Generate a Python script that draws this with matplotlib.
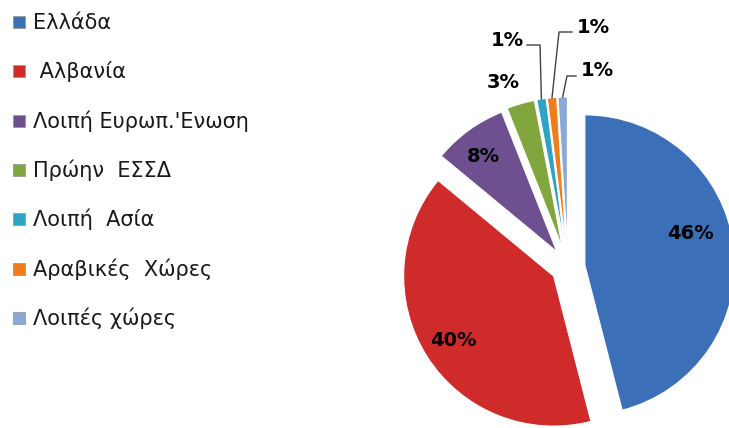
import numpy as np
import matplotlib.pyplot as plt
from matplotlib.patches import Rectangle

# data
categories = ["Ελλάδα", " Αλβανία", "Λοιπή Ευρωπ.'Ενωση", "Πρώην  ΕΣΣΔ",
              "Λοιπή  Ασία", "Αραβικές  Χώρες", "Λοιπές χώρες"]
shares = [46, 40, 8, 3, 1, 1, 1]
pct_labels = ["46%", "40%", "8%", "3%", "1%", "1%", "1%"]

colors = ["#3B70B8", "#D02B2B", "#6E5090", "#82A63E", "#2EA3C4", "#EF7D1C", "#8CA8D6"]

W, H = 729, 428
PIE_CENTER = (568, H - 267)
PIE_RADIUS = 150
# pie() offsets wedges in data units, here pixels
EXPLODE_PX = [17, 17, 19, 20, 20, 20, 20]

# label text positions (image px) and leader elbows for the small slices
label_pos = [(690, 233), (453, 340), (483, 156), (503, 82),
             (507, 40), (593, 27), (597, 70)]
leaders = {4: [(527, 45), (540, 45)],
           5: [(572, 32), (559, 32)],
           6: [(576, 76), (567, 76)]}


def main():
    fig = plt.figure(figsize=(W / 100, H / 100), dpi=100)
    ax = fig.add_axes([0, 0, 1, 1])

    wedges, _ = ax.pie(
        shares,
        colors=colors,
        explode=EXPLODE_PX,
        startangle=90,
        counterclock=False,
        radius=PIE_RADIUS,
        center=PIE_CENTER,
        frame=True,
        wedgeprops=dict(edgecolor="white", linewidth=0.8),
    )

    for i, (txt, (x, y)) in enumerate(zip(pct_labels, label_pos)):
        ax.text(x, H - y, txt, ha="center", va="center",
                fontsize=14, fontweight="bold", color="black")
        if i in leaders:
            w = wedges[i]
            mid = np.deg2rad((w.theta1 + w.theta2) / 2)
            cx, cy = w.center
            tip = (cx + w.r * np.cos(mid), cy + w.r * np.sin(mid))
            pts = [(px, H - py) for px, py in leaders[i]] + [tip]
            ax.plot([p[0] for p in pts], [p[1] for p in pts],
                    color="#404040", lw=1.0)

    # legend
    for i, (name, col) in enumerate(zip(categories, colors)):
        row_y = 22 + i * 49.3
        ax.add_patch(Rectangle((13, H - row_y - 6), 12, 12,
                               facecolor=col, edgecolor="#9a9a9a", lw=0.6))
        ax.text(33, H - (row_y + 7), name, ha="left", va="baseline",
                fontsize=15, color="#1a1a1a")

    ax.set_xlim(0, W)
    ax.set_ylim(0, H)
    ax.set_aspect("auto")
    ax.axis("off")
    fig.savefig("out.png", dpi=100)
    plt.close(fig)


if __name__ == "__main__":
    main()
